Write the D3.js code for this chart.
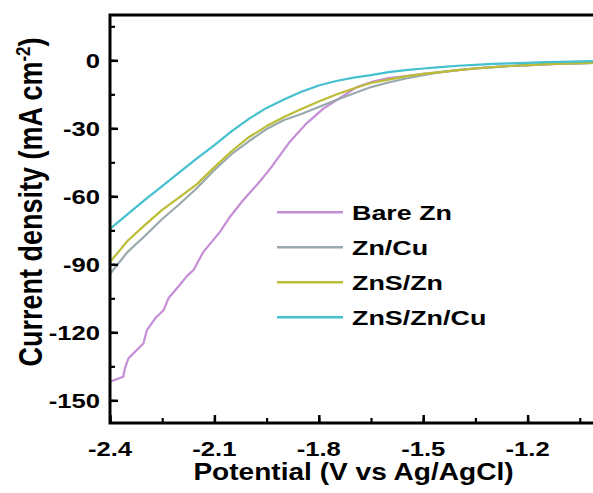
<!DOCTYPE html>
<html>
<head>
<meta charset="utf-8">
<script src="https://cdn.jsdelivr.net/npm/d3@7/dist/d3.min.js"></script>
<style>
body{margin:0;background:#fff;}
svg{display:block;}
</style>
</head>
<body>
<div id="graphHolder"></div>
<script>
// potential grid (V vs Ag/AgCl)
var potential = [-2.40,-2.35,-2.30,-2.25,-2.20,-2.15,-2.10,-2.05,-2.00,-1.95,-1.90,-1.85,-1.80,-1.75,-1.70,-1.65,-1.60,-1.55,-1.50,-1.45,-1.40,-1.35,-1.30,-1.25,-1.20,-1.15,-1.10,-1.05,-1.00];
// bare zn is stepped, so it has its own potentials
var bareZnV = [-2.400,-2.362,-2.357,-2.347,-2.323,-2.304,-2.294,-2.270,-2.246,-2.232,-2.198,-2.179,-2.160,-2.132,-2.084,-2.055,-2.017,-1.978,-1.940,-1.883,-1.835,-1.787,-1.739,-1.691,-1.644,-1.60,-1.55,-1.50,-1.45,-1.40,-1.35,-1.30,-1.25,-1.20,-1.15,-1.10,-1.05,-1.00];
// current density (mA cm-2)
var bareZn  = [-141.8,-139.6,-135.7,-131.5,-127.8,-124.9,-119.0,-113.8,-110.2,-105.0,-98.8,-95.2,-92.5,-84.6,-75.7,-69.0,-61.6,-55.0,-47.9,-35.9,-27.8,-21.3,-16.6,-11.8,-9.4,-7.8,-6.9,-6.0,-5.2,-4.3,-3.6,-3.0,-2.5,-2.2,-1.8,-1.5,-1.3,-1.1];
var znCu    = [-94.3,-84.6,-77.5,-70.0,-63.4,-56.3,-48.4,-41.3,-35.6,-30.3,-26.3,-23.7,-20.6,-17.5,-14.6,-11.8,-9.8,-8.0,-6.5,-5.2,-4.3,-3.5,-3.0,-2.5,-2.1,-1.8,-1.5,-1.3,-1.1];
var znsZn   = [-89.0,-79.7,-72.7,-66.0,-60.3,-54.6,-47.1,-40.0,-33.8,-29.0,-25.0,-21.5,-18.2,-15.1,-12.4,-10.0,-8.5,-7.1,-6.0,-5.2,-4.3,-3.6,-3.0,-2.5,-2.1,-1.7,-1.5,-1.2,-1.1];
var znsZnCu = [-74.4,-68.0,-61.6,-55.5,-49.3,-43.3,-37.4,-31.2,-25.7,-21.0,-17.3,-13.9,-11.1,-9.1,-7.6,-6.5,-5.2,-4.3,-3.6,-3.0,-2.4,-2.0,-1.6,-1.3,-1.1,-0.8,-0.7,-0.5,-0.3];
var seriesNames = ["Bare Zn","Zn/Cu","ZnS/Zn","ZnS/Zn/Cu"];
var seriesColors = ["#c58ed6","#9aa9ad","#bcbd35","#45c0cf"];
var xTicks = [-2.4,-2.1,-1.8,-1.5,-1.2];
var yTicks = [0,-30,-60,-90,-120,-150];

var W = 593, H = 493;
// plot box (right edge runs past the picture)
var pL = 110, pR = 597.2, pT = 15, pB = 423;
var svg = d3.select("#graphHolder").append("svg")
	.attr("width",W).attr("height",H);

var x = d3.scaleLinear().domain([-2.4,-1.0]).range([pL,pR]);
var y = d3.scaleLinear().domain([-160,20]).range([pB,pT]);

var allSeries = [
	{v:bareZnV, c:bareZn},
	{v:potential, c:znCu},
	{v:potential, c:znsZn},
	{v:potential, c:znsZnCu}
];

svg.append("clipPath").attr("id","clip")
	.append("rect").attr("x",pL).attr("y",pT).attr("width",pR-pL).attr("height",pB-pT);

var line = d3.line()
	.x(function(d){return x(d[0]);})
	.y(function(d){return y(d[1]);});

allSeries.forEach(function(s,k){
	var pts = s.v.map(function(p,i){return [p,s.c[i]];});
	svg.append("path")
		.attr("d",line(pts))
		.attr("fill","none")
		.attr("stroke",seriesColors[k])
		.attr("stroke-width",2.2)
		.attr("stroke-linejoin","round")
		.attr("clip-path","url(#clip)");
});

// axes (ticks inside)
var xMinor = d3.range(-2.4,-0.99,0.15).map(function(v){return +v.toFixed(2);});
var yMinor = d3.range(-150,20,15);

svg.append("g")
	.attr("transform","translate(0,"+pB+")")
	.call(d3.axisBottom(x).tickValues(xMinor).tickSize(-5).tickFormat(""))
	.call(function(g){g.select(".domain").remove();})
	.selectAll("line").attr("stroke","#000").attr("stroke-width",2.2);
svg.append("g")
	.attr("transform","translate(0,"+pB+")")
	.call(d3.axisBottom(x).tickValues(xTicks).tickSize(-8).tickFormat(""))
	.call(function(g){g.select(".domain").remove();})
	.selectAll("line").attr("stroke","#000").attr("stroke-width",2.5);
svg.append("g")
	.attr("transform","translate("+pL+",0)")
	.call(d3.axisLeft(y).tickValues(yMinor).tickSize(-5).tickFormat(""))
	.call(function(g){g.select(".domain").remove();})
	.selectAll("line").attr("stroke","#000").attr("stroke-width",2.2);
svg.append("g")
	.attr("transform","translate("+pL+",0)")
	.call(d3.axisLeft(y).tickValues(yTicks).tickSize(-8).tickFormat(""))
	.call(function(g){g.select(".domain").remove();})
	.selectAll("line").attr("stroke","#000").attr("stroke-width",2.5);

// frame
svg.append("path")
	.attr("d","M"+W+","+pT+"H"+pL+"V"+pB+"H"+W)
	.attr("fill","none").attr("stroke","#000").attr("stroke-width",3);

// text helper, glyphs in the picture are stretched sideways
function label(txt,px,py,size,sx,anchor){
	return svg.append("text")
		.attr("transform","translate("+px+","+py+") scale("+sx+",1)")
		.attr("text-anchor",anchor)
		.style("font-family","'Liberation Sans',Arial,sans-serif")
		.style("font-weight","bold")
		.style("font-size",size+"px")
		.attr("fill","#000")
		.text(txt);
}

xTicks.forEach(function(t){
	label(d3.format(".1f")(t).replace("−","-"),x(t),456,20.5,1.25,"middle");
});
yTicks.forEach(function(t){
	label(String(t),100,y(t)+7.5,20.5,1.25,"end");
});

label("Potential (V vs Ag/AgCl)",353.5,480,24,1.17,"middle");

var yl = svg.append("text")
	.attr("transform","translate(42,202) rotate(-90) scale(1,1.2)")
	.attr("text-anchor","middle")
	.style("font-family","'Liberation Sans',Arial,sans-serif")
	.style("font-weight","bold")
	.style("font-size","27px");
yl.append("tspan").text("Current density (mA cm");
yl.append("tspan").attr("dy",-10).style("font-size","17px").text("-2");
yl.append("tspan").attr("dy",10).text(")");

// legend
seriesNames.forEach(function(n,i){
	var ly = 212.3 + i*35;
	svg.append("line")
		.attr("x1",277).attr("x2",343)
		.attr("y1",ly).attr("y2",ly)
		.attr("stroke",seriesColors[i]).attr("stroke-width",2.5);
	label(n,352,ly+7.5,21,1.28,"start");
});
</script>
</body>
</html>
